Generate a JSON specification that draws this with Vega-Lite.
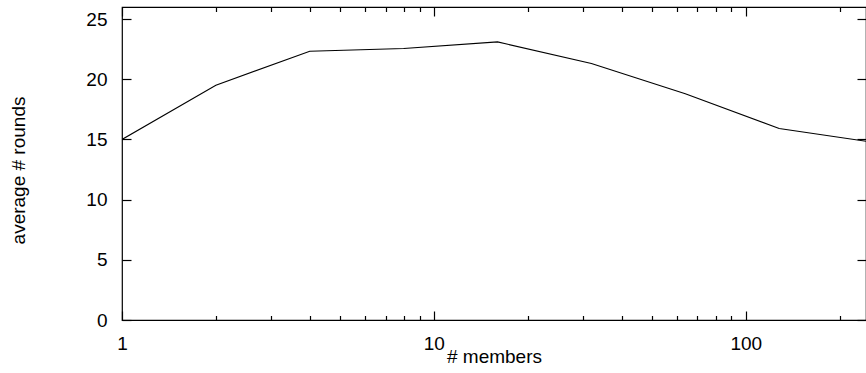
{
  "$schema": "https://vega.github.io/schema/vega-lite/v6.json",
  "width": 744,
  "height": 313,
  "autosize": "none",
  "padding": {"left": 122, "top": 7, "right": 0, "bottom": 53},
  "background": "white",
  "config": {
    "view": {"stroke": "black", "strokeWidth": 1.2},
    "font": "Liberation Sans",
    "axis": {
      "grid": false,
      "domain": false,
      "tickColor": "black",
      "tickWidth": 1.2,
      "labelColor": "black",
      "titleColor": "black",
      "labelFont": "Liberation Sans",
      "titleFont": "Liberation Sans",
      "labelFontSize": 19,
      "titleFontSize": 19,
      "titleFontWeight": "normal"
    }
  },
  "data": {
    "values": [
      {"members": 1, "rounds": 15.0},
      {"members": 2, "rounds": 19.5},
      {"members": 4, "rounds": 22.33},
      {"members": 8, "rounds": 22.55},
      {"members": 16, "rounds": 23.1},
      {"members": 32, "rounds": 21.3},
      {"members": 64, "rounds": 18.8},
      {"members": 128, "rounds": 15.9},
      {"members": 256, "rounds": 14.76}
    ]
  },
  "resolve": {"axis": {"x": "independent", "y": "independent"}},
  "layer": [
    {
      "mark": {"type": "line", "color": "black", "strokeWidth": 1.1, "clip": true},
      "encoding": {
        "x": {
          "field": "members", "type": "quantitative",
          "scale": {"type": "log", "domain": [1, 243], "nice": false},
          "axis": {"orient": "bottom", "values": [1, 10, 100], "format": "d", "tickSize": -9, "labelPadding": 23, "labelBaseline": "top", "title": "# members", "titleX": 372, "titleY": 36, "titleBaseline": "middle", "labelFlush": false, "labelOverlap": false}
        },
        "y": {
          "field": "rounds", "type": "quantitative",
          "scale": {"domain": [0, 26], "nice": false, "zero": true},
          "axis": {"orient": "left", "values": [0, 5, 10, 15, 20, 25], "tickSize": -9, "labelPadding": 24, "title": "average # rounds", "titleX": -104, "titleY": 163, "titleAngle": -90, "titleAlign": "center", "titleBaseline": "middle"}
        }
      }
    },
    {
      "mark": {"type": "line", "opacity": 0, "clip": true},
      "encoding": {
        "x": {
          "field": "members", "type": "quantitative",
          "scale": {"type": "log", "domain": [1, 243], "nice": false},
          "axis": {"orient": "top", "values": [1, 10, 100], "tickSize": -9, "labels": false, "title": null}
        },
        "y": {
          "field": "rounds", "type": "quantitative",
          "scale": {"domain": [0, 26], "nice": false},
          "axis": {"orient": "right", "values": [0, 5, 10, 15, 20, 25], "tickSize": -9, "labels": false, "title": null}
        }
      }
    },
    {
      "mark": {"type": "line", "opacity": 0, "clip": true},
      "encoding": {
        "x": {
          "field": "members", "type": "quantitative",
          "scale": {"type": "log", "domain": [1, 243], "nice": false},
          "axis": {"orient": "bottom", "values": [2, 3, 4, 5, 6, 7, 8, 9, 20, 30, 40, 50, 60, 70, 80, 90, 200], "tickSize": -4.5, "labels": false, "title": null}
        },
        "y": {"field": "rounds", "type": "quantitative", "scale": {"domain": [0, 26], "nice": false}, "axis": null}
      }
    },
    {
      "mark": {"type": "line", "opacity": 0, "clip": true},
      "encoding": {
        "x": {
          "field": "members", "type": "quantitative",
          "scale": {"type": "log", "domain": [1, 243], "nice": false},
          "axis": {"orient": "top", "values": [2, 3, 4, 5, 6, 7, 8, 9, 20, 30, 40, 50, 60, 70, 80, 90, 200], "tickSize": -4.5, "labels": false, "title": null}
        },
        "y": {"field": "rounds", "type": "quantitative", "scale": {"domain": [0, 26], "nice": false}, "axis": null}
      }
    }
  ]
}
